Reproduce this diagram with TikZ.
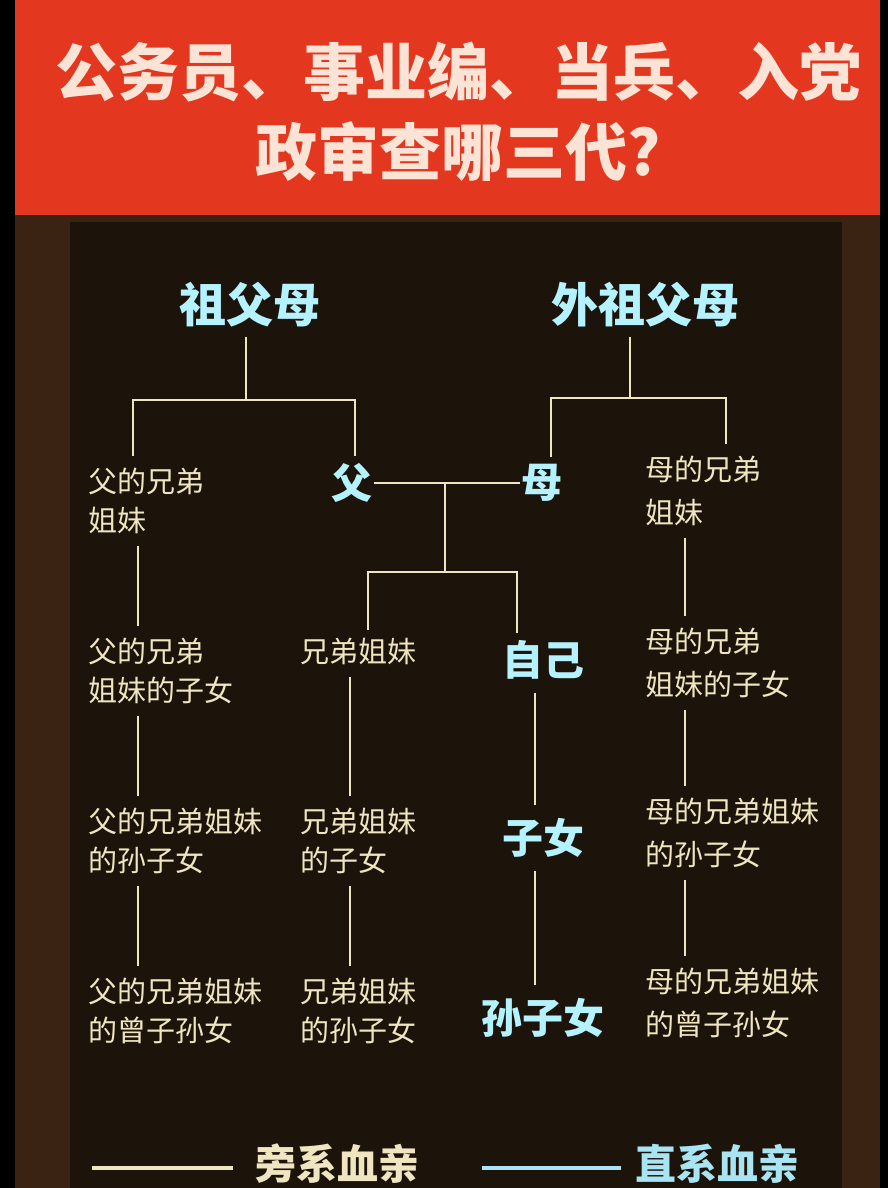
\documentclass[tikz,border=0pt]{standalone}
\usepackage{fontspec}
\newfontfamily\cjk{Noto Sans CJK SC}
\definecolor{titlered}{HTML}{E3381F}
\definecolor{panel}{HTML}{1C130A}
\definecolor{framebrown}{HTML}{3A2312}
\definecolor{beige}{HTML}{EFE5C0}
\definecolor{titletext}{HTML}{FBE4D6}
\definecolor{kinblue}{HTML}{B4F2FF}
\definecolor{legblue}{HTML}{A8E4F2}
\begin{document}
\begin{tikzpicture}[x=1pt, y=-1pt,
	title/.style = {text=titletext, font=\cjk\bfseries\fontsize{62}{62}\selectfont, inner sep=0pt},
	kin/.style = {text=kinblue, font=\cjk\bfseries\fontsize{41}{41}\selectfont, inner sep=1pt},
	kinbig/.style = {kin, font=\cjk\bfseries\fontsize{47}{47}\selectfont},
	rel/.style = {text=beige, font=\cjk\fontsize{29}{39}\selectfont, align=left, anchor=north west, inner sep=0pt},
	relwide/.style = {rel, font=\cjk\fontsize{29}{43}\selectfont},
	link/.style = {draw=beige, line width=2.5pt},
	vlink/.style = {link, shorten <=12pt, shorten >=12pt},
	legend/.style = {font=\cjk\bfseries\fontsize{41}{41}\selectfont, inner sep=0pt}]
	\useasboundingbox (0,0) rectangle (888,1188);
	\clip (0,0) rectangle (888,1188);

	% background
	\fill[black] (0,0) rectangle (888,1188);
	\fill[framebrown] (15,215) rectangle (880,1188);
	\fill[panel] (70,222) rectangle (842,1188);
	\fill[titlered] (15,0) rectangle (880,215);

	% title
	\node[title] (head) at (458,72) {公务员、事业编、当兵、入党};
	\node[title] (sub) at (458,152) {政审查哪三代?};

	% direct line
	\node[kinbig] (zfm) at (250,305) {祖父母};
	\node[kinbig] (wzfm) at (645,305) {外祖父母};
	\node[kin] (fu) at (352,483) {父};
	\node[kin] (mu) at (542,483) {母};
	\node[kin] (self) at (543,660) {自己};
	\node[kin] (zn) at (543,838) {子女};
	\node[kin] (szn) at (543,1018) {孙子女};

	% collateral line
	\node[rel] (fA) at (88,468) {父的兄弟\\姐妹};
	\node[rel] (fB) at (88,638) {父的兄弟\\姐妹的子女};
	\node[rel] (fC) at (88,808) {父的兄弟姐妹\\的孙子女};
	\node[rel] (fD) at (88,978) {父的兄弟姐妹\\的曾子孙女};
	\node[rel] (sA) at (300,638) {兄弟姐妹};
	\node[rel] (sB) at (300,808) {兄弟姐妹\\的子女};
	\node[rel] (sC) at (300,978) {兄弟姐妹\\的孙子女};
	\node[relwide] (mA) at (645,456) {母的兄弟\\姐妹};
	\node[relwide] (mB) at (645,628) {母的兄弟\\姐妹的子女};
	\node[relwide] (mC) at (645,798) {母的兄弟姐妹\\的孙子女};
	\node[relwide] (mD) at (645,968) {母的兄弟姐妹\\的曾子孙女};

	% junctions
	\coordinate (zfmBar) at (246,400);
	\coordinate (barL) at (133,400);
	\coordinate (barR) at (355,400);
	\coordinate (wzfmBar) at (630,398);
	\coordinate (wbarL) at (551,398);
	\coordinate (wbarR) at (726,398);
	\coordinate (mid) at (445,483);
	\coordinate (kidBar) at (445,572);
	\coordinate (kidL) at (368,572);
	\coordinate (kidR) at (517,572);
	\coordinate (colF) at (138,0);
	\coordinate (colS) at (350,0);
	\coordinate (colD) at (535,0);
	\coordinate (colM) at (685,0);

	\draw[link] ([yshift=-8pt]zfm.south -| zfmBar) -- (zfmBar);
	\draw[link] ([yshift=12pt]fA.north -| barL) -- (barL) -- (barR) -- ([yshift=6pt]fu.north -| barR);
	\draw[link] ([yshift=-8pt]wzfm.south -| wzfmBar) -- (wzfmBar);
	\draw[link] ([yshift=6pt]mu.north -| wbarL) -- (wbarL) -- (wbarR) -- ([yshift=12pt]mA.north -| wbarR);
	\draw[link] (fu.east) -- (mu.west);
	\draw[link] (mid) -- (kidBar);
	\draw[link] ([yshift=8pt]sA.north -| kidL) -- (kidL) -- (kidR) -- ([yshift=6pt]self.north -| kidR);

	% generations
	\foreach \a/\b/\c in {fA/fB/colF, fB/fC/colF, fC/fD/colF, sA/sB/colS, sB/sC/colS,
		self/zn/colD, zn/szn/colD, mA/mB/colM, mB/mC/colM, mC/mD/colM} {
		\draw[vlink] (\a.south -| \c) -- (\b.north -| \c);
	}

	% legend
	\coordinate (legA) at (92,1168);
	\coordinate (legB) at (482,1168);
	\node[legend, text=beige] (pang) at (337,1164) {旁系血亲};
	\node[legend, text=legblue] (zhi) at (717,1164) {直系血亲};
	\draw[draw=beige, line width=4pt, shorten >=22pt] (legA) -- (pang.west |- legA);
	\draw[draw=legblue, line width=4pt, shorten >=14pt] (legB) -- (zhi.west |- legB);
\end{tikzpicture}
\end{document}
